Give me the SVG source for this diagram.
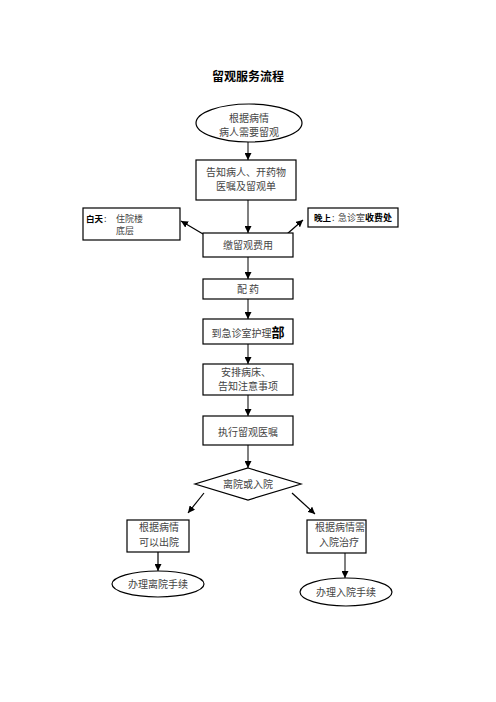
<svg xmlns="http://www.w3.org/2000/svg" width="496" height="702" viewBox="0 0 496 702">
<style>
  .box{fill:#fff;stroke:#000;stroke-width:1.2}
  .t{font-family:"Noto Sans CJK SC","Noto Sans CJK JP",sans-serif;font-size:10px;fill:#444;text-anchor:middle}
  .l{font-family:"Noto Sans CJK SC","Noto Sans CJK JP",sans-serif;font-size:9px;fill:#444}
  .b{font-family:"Noto Sans CJK SC","Noto Sans CJK JP",sans-serif;font-weight:bold;fill:#000}
  .c{stroke:#555;stroke-width:1.5;fill:none;marker-end:url(#ah)}
  .s{stroke:#000;stroke-width:1.2;fill:none;marker-end:url(#ah)}
</style>
<defs>
  <marker id="ah" viewBox="0 0 10 10" refX="10" refY="5" markerWidth="7" markerHeight="7" markerUnits="userSpaceOnUse" orient="auto">
    <path d="M0,0 L10,5 L0,10 z" fill="#000"/>
  </marker>
</defs>
<rect width="496" height="702" fill="#fff"/>
<text x="248" y="81" class="b" font-size="12" text-anchor="middle">留观服务流程</text>

<g id="connectors">
  <line class="c" x1="248" y1="142" x2="248" y2="160"/>
  <line class="c" x1="248" y1="200" x2="248" y2="233"/>
  <line class="s" x1="203" y1="234" x2="181" y2="221"/>
  <line class="s" x1="287" y1="234" x2="303" y2="220"/>
  <line class="c" x1="248" y1="257" x2="248" y2="279"/>
  <line class="c" x1="248" y1="299" x2="248" y2="319"/>
  <line class="c" x1="248" y1="344" x2="248" y2="364"/>
  <line class="c" x1="248" y1="395" x2="248" y2="416"/>
  <line class="c" x1="248" y1="445" x2="248" y2="468"/>
  <line class="s" x1="204" y1="493" x2="188" y2="513"/>
  <line class="s" x1="292" y1="493" x2="315" y2="514"/>
  <line class="s" x1="158" y1="552" x2="158" y2="571"/>
  <line class="c" x1="345" y1="553" x2="345" y2="578"/>
</g>

<g id="n_start">
  <ellipse class="box" cx="249" cy="123" rx="53" ry="19"/>
  <text class="t" x="249" y="122">根据病情</text>
  <text class="t" x="249" y="136">病人需要留观</text>
</g>

<g id="n_notify">
  <rect class="box" x="196" y="160" width="100" height="40"/>
  <text class="t" x="246" y="176">告知病人、开药物</text>
  <text class="t" x="246" y="190">医嘱及留观单</text>
</g>

<g id="n_day">
  <rect class="box" x="83" y="208" width="97" height="32"/>
  <text x="86" y="222" class="b" font-size="8.5">白天</text>
  <text x="104" y="222" class="l">:</text>
  <text x="116" y="222" class="l">住院楼</text>
  <text x="116" y="234" class="l">底层</text>
</g>

<g id="n_night">
  <rect class="box" x="308" y="208" width="90" height="19"/>
  <text x="314" y="221" class="b" font-size="8.5">晚上</text>
  <text x="332" y="221" class="l">:</text>
  <text x="338" y="221" class="l">急诊室</text>
  <text x="365" y="221" class="b" font-size="9">收费处</text>
</g>

<g id="n_pay">
  <rect class="box" x="203" y="233" width="90" height="24"/>
  <text class="t" x="248" y="249" font-size="10.5">缴留观费用</text>
</g>

<g id="n_med">
  <rect class="box" x="203" y="279" width="90" height="20"/>
  <text class="t" x="248" y="293" font-size="9.5">配  药</text>
</g>

<g id="n_er">
  <rect class="box" x="203" y="319" width="90" height="25"/>
  <text class="t" x="248" y="337" font-size="10.5">到急诊室护理<tspan class="b" font-size="13">部</tspan></text>
</g>

<g id="n_bed">
  <rect class="box" x="203" y="364" width="90" height="31"/>
  <text class="t" x="246" y="376">安排病床、</text>
  <text class="t" x="248" y="390">告知注意事项</text>
</g>

<g id="n_exec">
  <rect class="box" x="203" y="416" width="90" height="29"/>
  <text class="t" x="248" y="436" font-size="12.5" fill="#222">执行留观医嘱</text>
</g>

<g id="n_decide">
  <polygon class="box" points="248,468 301,484 248,500 195,484"/>
  <text class="t" x="248" y="488" font-size="9.5">离院或入院</text>
</g>

<g id="n_leave">
  <rect class="box" x="127" y="520" width="62" height="32"/>
  <text class="t" x="159" y="531">根据病情</text>
  <text class="t" x="159" y="546">可以出院</text>
</g>

<g id="n_admit">
  <rect class="box" x="307" y="520" width="59" height="33"/>
  <text class="t" x="340" y="531" font-size="9.5">根据病情需</text>
  <text class="t" x="339" y="546" font-size="9.5">入院治疗</text>
</g>

<g id="n_leave_proc">
  <ellipse class="box" cx="158" cy="584" rx="46" ry="13"/>
  <text class="t" x="158" y="588">办理离院手续</text>
</g>

<g id="n_admit_proc">
  <ellipse class="box" cx="346" cy="592" rx="46" ry="14"/>
  <text class="t" x="346" y="596">办理入院手续</text>
</g>
</svg>
